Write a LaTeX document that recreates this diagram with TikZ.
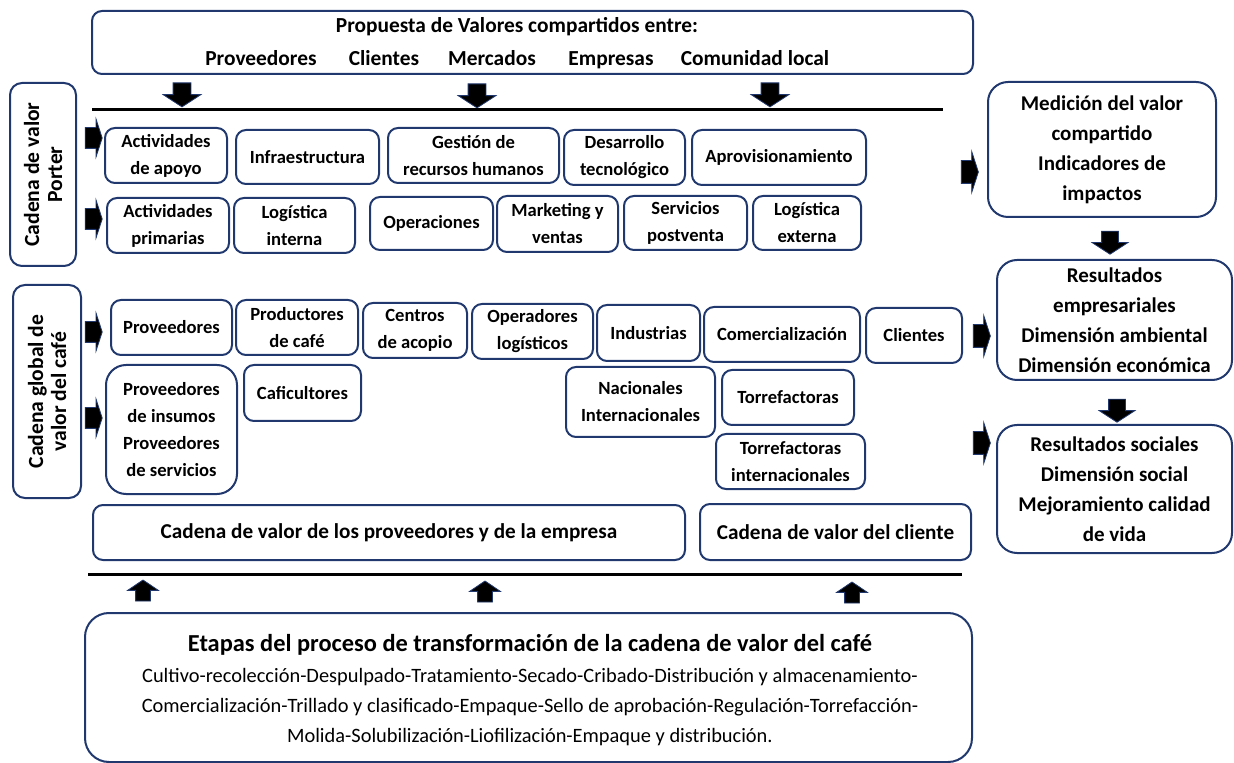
\documentclass[tikz,border=0pt]{standalone}
\usepackage{fontspec}
\setmainfont{Carlito}
\usetikzlibrary{shapes.arrows}

\begin{document}
\begin{tikzpicture}[x=0.5pt,y=-0.5pt,
	caja/.style={draw=azul, line width=1pt, rounded corners=5pt, align=center, inner sep=0pt,
		font=\bfseries\fontsize{9.3}{13.5}\selectfont},
	lateral/.style={caja, rotate=90, rounded corners=6pt, font=\bfseries\fontsize{10.8}{11.5}\selectfont},
	grande/.style={caja, rounded corners=10pt, font=\bfseries\fontsize{10.5}{15}\selectfont},
	texto/.style={inner sep=0pt, anchor=base, font=\bfseries\fontsize{10.7}{13}\selectfont},
	flecha/.style={single arrow, fill=black, draw=azul, line width=0.4pt, inner xsep=0pt, inner ysep=5pt,
		minimum width=1pt, single arrow head extend=4.25pt, single arrow tip angle=144, minimum height=8.5pt},
	bajar/.style={flecha, shape border rotate=270, inner ysep=0pt, inner xsep=4.25pt, minimum height=12pt, single arrow head extend=5pt, single arrow tip angle=114},
	subir/.style={flecha, shape border rotate=90, inner ysep=0pt, inner xsep=3.5pt, minimum height=10.5pt, single arrow head extend=4pt, single arrow tip angle=112},
	separador/.style={line width=1.5pt}
]
	% Colors
	\definecolor{azul}{RGB}{32,56,110}
	
	\useasboundingbox (0,0) rectangle (1234,763);
	
	% Shared value proposal
	\node (prop) [caja, minimum width=440.5pt, minimum height=31.5pt] at (532.5,42.5) {};
	\node (tprop) [texto] at (517,33) {Propuesta de Valores compartidos entre:};
	\node (tprov) [texto] at (261,66) {Proveedores};
	\node (tcli) [texto] at (384,66) {Clientes};
	\node (tmer) [texto] at (492,66) {Mercados};
	\node (temp) [texto] at (611,66) {Empresas};
	\node (tcom) [texto] at (755,66) {Comunidad local};
	
	\node (b1) [bajar] at (182,92) {};
	\node (b2) [bajar] at (477,93) {};
	\node (b3) [bajar] at (770,92) {};
	
	\coordinate (sa) at (92,110);
	\coordinate (sb) at (943,110);
	\draw[separador] (sa) -- (sb);
	
	% Porter value chain
	\node (porter) [lateral, minimum width=91.5pt, minimum height=33pt] at (43,174.5) {Cadena de valor\\Porter};
	\node (f1) [flecha] at (92,138) {};
	\node (f2) [flecha] at (92,219) {};
	
	\node (apoyo) [caja, minimum width=61pt, minimum height=27.5pt] at (166,155.5) {Actividades\\de apoyo};
	\node (infra) [caja, minimum width=71.5pt, minimum height=27pt] at (307.5,157) {Infraestructura};
	\node (rrhh) [caja, minimum width=85.5pt, minimum height=27.5pt] at (473.5,155.5) {Gestión de\\recursos humanos};
	\node (tecno) [caja, minimum width=60.5pt, minimum height=27.5pt] at (624.5,157.5) {Desarrollo\\tecnológico};
	\node (aprov) [caja, minimum width=87pt, minimum height=27.5pt] at (779,157.5) {Aprovisionamiento};
	
	\node (prim) [caja, minimum width=61pt, minimum height=27.5pt] at (168,225.5) {Actividades\\primarias};
	\node (logint) [caja, minimum width=60.5pt, minimum height=27.5pt] at (294.5,225.5) {Logística\\interna};
	\node (opera) [caja, minimum width=61.5pt, minimum height=26.5pt] at (431.5,223.5) {Operaciones};
	\node (mkt) [caja, minimum width=60.5pt, minimum height=28pt] at (557.5,224) {Marketing y\\ventas};
	\node (postv) [caja, minimum width=61.5pt, minimum height=27pt] at (685.5,223) {Servicios\\postventa};
	\node (logext) [caja, minimum width=54pt, minimum height=27pt] at (807,223) {Logística\\externa};
	
	% Global coffee value chain
	\node (global) [lateral, minimum width=106.5pt, minimum height=34pt] at (47,391.5) {Cadena global de\\valor del café};
	\node (f3) [flecha] at (92,332) {};
	\node (f4) [flecha] at (92,418) {};
	
	\node (prov) [caja, minimum width=60.5pt, minimum height=27.5pt] at (171.5,327.5) {Proveedores};
	\node (produc) [caja, minimum width=61pt, minimum height=27.5pt] at (297,327.5) {Productores\\de café};
	\node (acopio) [caja, minimum width=52pt, minimum height=27.5pt] at (415,330.5) {Centros\\de acopio};
	\node (operad) [caja, minimum width=60.5pt, minimum height=27.5pt] at (532.5,331.5) {Operadores\\logísticos};
	\node (indus) [caja, minimum width=51.5pt, minimum height=28pt] at (648.5,333) {Industrias};
	\node (comerc) [caja, minimum width=78pt, minimum height=27.5pt] at (782,334.5) {Comercialización};
	\node (clien) [caja, minimum width=48pt, minimum height=27.5pt] at (914,335.5) {Clientes};
	
	\node (insumos) [caja, rounded corners=10pt, minimum width=65.5pt, minimum height=64.5pt] at (171.5,429.5) {Proveedores\\de insumos\\Proveedores\\de servicios};
	\node (cafic) [caja, minimum width=58.5pt, minimum height=28pt] at (302.5,393) {Caficultores};
	\node (nacio) [caja, minimum width=74.5pt, minimum height=35pt] at (640.5,402) {Nacionales\\Internacionales};
	\node (torre) [caja, minimum width=66pt, minimum height=27.5pt] at (788,397.5) {Torrefactoras};
	\node (torreint) [caja, minimum width=74.5pt, minimum height=27.5pt] at (790.5,461.5) {Torrefactoras\\internacionales};
	
	% Value chains
	\node (cadprov) [caja, font=\bfseries\fontsize{10.6}{13}\selectfont, minimum width=296pt, minimum height=27.5pt] at (389,532.5) {Cadena de valor de los proveedores y de la empresa};
	\node (cadcli) [caja, font=\bfseries\fontsize{10.6}{13}\selectfont, minimum width=135.5pt, minimum height=28pt] at (835.5,532) {Cadena de valor del cliente};
	
	\coordinate (sc) at (88,574);
	\coordinate (sd) at (962,574);
	\draw[separador] (sc) -- (sd);
	
	\node (s1) [subir] at (143,593) {};
	\node (s2) [subir] at (485,594) {};
	\node (s3) [subir] at (852,595) {};
	
	% Transformation stages
	\node (etapas) [caja, rounded corners=12pt, minimum width=443.5pt, minimum height=74.5pt] at (528.5,687.5) {};
	\node (tetapas) [inner sep=0pt, font=\bfseries\fontsize{12.2}{14}\selectfont] at (530,645) {Etapas del proceso de transformación de la cadena de valor del café};
	\node (lista) [inner sep=0pt, align=center, font=\fontsize{10.2}{15}\selectfont] at (530,707) {Cultivo-recolección-Despulpado-Tratamiento-Secado-Cribado-Distribución y almacenamiento-\\Comercialización-Trillado y clasificado-Empaque-Sello de aprobación-Regulación-Torrefacción-\\Molida-Solubilización-Liofilización-Empaque y distribución.};
	
	% Results
	\node (medic) [grande, minimum width=114pt, minimum height=67.5pt] at (1102,149.5) {Medición del valor\\compartido\\Indicadores de\\impactos};
	\node (result) [grande, minimum width=117.5pt, minimum height=60pt] at (1114.5,320) {Resultados\\empresariales\\Dimensión ambiental\\Dimensión económica};
	\node (social) [grande, minimum width=117.5pt, minimum height=64pt] at (1114.5,489) {Resultados sociales\\Dimensión social\\Mejoramiento calidad\\de vida};
	
	\node (f5) [flecha, inner ysep=5.5pt, single arrow head extend=4.5pt] at (968,172) {};
	\node (f6) [flecha, inner ysep=5.5pt, single arrow head extend=4.5pt] at (980,336) {};
	\node (f7) [flecha, inner ysep=5.5pt, single arrow head extend=4.5pt] at (980,443) {};
	\node (b4) [bajar, inner xsep=4pt, minimum height=11.5pt, single arrow head extend=4.75pt] at (1110,240) {};
	\node (b5) [bajar, inner xsep=4pt, minimum height=11.5pt, single arrow head extend=4.75pt] at (1117,408) {};
\end{tikzpicture}
\end{document}
